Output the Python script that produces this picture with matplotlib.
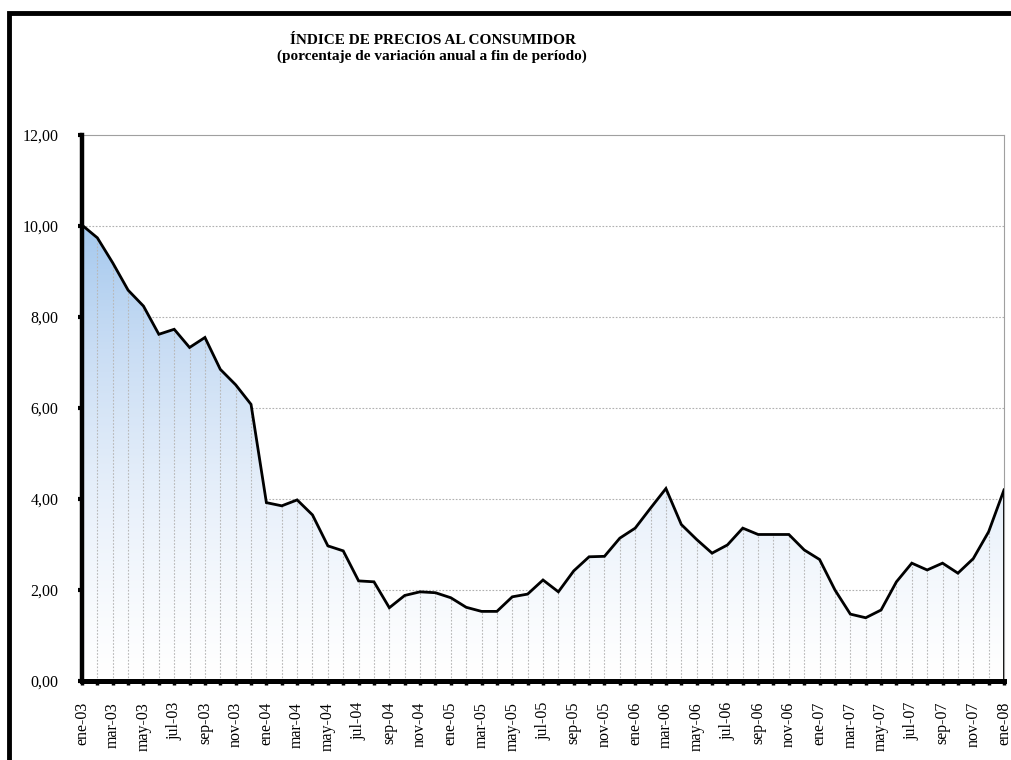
import numpy as np
import matplotlib
matplotlib.use('Agg')
from matplotlib import pyplot as plt
from matplotlib.patches import Rectangle
from matplotlib.colors import LinearSegmentedColormap

# --------------Daten--------------
meses = ['ene', 'feb', 'mar', 'abr', 'may', 'jun',
         'jul', 'ago', 'sep', 'oct', 'nov', 'dic']
etiquetas = ['%s-%02d' % (m, a) for a in range(3, 8) for m in meses] + ['ene-08']

ipc = [10.02, 9.74, 9.19, 8.59, 8.24, 7.62, 7.73, 7.33, 7.55, 6.85, 6.51, 6.08,
       3.92, 3.85, 3.98, 3.65, 2.97, 2.86, 2.20, 2.18, 1.61, 1.88, 1.96, 1.94,
       1.83, 1.62, 1.53, 1.53, 1.85, 1.91, 2.22, 1.96, 2.42, 2.73, 2.74, 3.14,
       3.36, 3.80, 4.23, 3.44, 3.11, 2.81, 2.99, 3.36, 3.22, 3.22, 3.22, 2.88,
       2.67, 2.00, 1.47, 1.39, 1.56, 2.18, 2.59, 2.44, 2.59, 2.37, 2.69, 3.28,
       4.20]

yticks = [0, 2, 4, 6, 8, 10, 12]

x = np.arange(len(ipc))

plt.rcParams['font.family'] = ['Liberation Serif', 'DejaVu Serif']

fig = plt.figure(figsize=(10.12, 7.6), dpi=100)
ax = fig.add_axes([82 / 1012, 1 - 681 / 760, (1004 - 82) / 1012, (681 - 135) / 760])

# Rahmen um die ganze Grafik
fig.patches.append(Rectangle((9 / 1012, -0.1), 1.2, 1.1 - 13 / 760, transform=fig.transFigure,
                             fill=False, edgecolor='black', linewidth=3.5, zorder=10))

# Gitterlinien
for yv in yticks[1:-1]:
    ax.axhline(yv, color='#b0b0b0', lw=0.8, ls=(0, (1.5, 1.5)), zorder=1)

# Verlauf unter der Kurve
cmap = LinearSegmentedColormap.from_list('azul', ['#ffffff', '#e6effa', '#c9ddf4', '#a4c8ee'])
grad = np.linspace(0, 1, 256).reshape(-1, 1) ** 1.25
img = ax.imshow(grad, cmap=cmap, origin='lower', aspect='auto',
                extent=[0, 60, 0, 10.1], zorder=2)
poly = ax.fill_between(x, 0, ipc, facecolor='none', edgecolor='none', zorder=2)
img.set_clip_path(poly.get_paths()[0], transform=ax.transData)

# senkrechte Linien je Monat
ax.vlines(x[1:-1], 0, ipc[1:-1], colors='#b8b8b8', lw=0.8, linestyles=(0, (1.5, 1.5)), zorder=3)
ax.vlines(x[-1], 0, ipc[-1], colors='black', lw=1.3, zorder=4)

ax.plot(x, ipc, color='black', lw=2.0, zorder=5, solid_joinstyle='miter')

# Achsen
ax.set_xlim(0, 60)
ax.set_ylim(0, 12)
ax.set_yticks(yticks)
ax.set_yticklabels([('%.2f' % v).replace('.', ',') for v in yticks])
ax.set_xticks(x)
ax.set_xticklabels([e if i % 2 == 0 else '' for i, e in enumerate(etiquetas)], rotation=90)

ax.spines['left'].set_linewidth(3.2)
ax.spines['bottom'].set_linewidth(3.6)
ax.spines['left'].set_zorder(6)
ax.spines['bottom'].set_zorder(6)
ax.spines['top'].set_color('#a0a0a0')
ax.spines['top'].set_linewidth(0.8)
ax.spines['right'].set_color('#a0a0a0')
ax.spines['right'].set_linewidth(0.8)

ax.tick_params(axis='y', direction='out', length=3, width=3, labelsize=11.5, pad=14)
ax.tick_params(axis='x', direction='out', length=3, width=2.5, labelsize=11.5, pad=12)

fig.text(433 / 1012, 1 - 40 / 760, 'ÍNDICE DE PRECIOS AL CONSUMIDOR',
         ha='center', va='center', fontsize=11, fontweight='bold')
fig.text(432 / 1012, 1 - 56 / 760, '(porcentaje de variación anual a fin de período)',
         ha='center', va='center', fontsize=11, fontweight='bold')

fig.savefig('out.png', dpi=100)
